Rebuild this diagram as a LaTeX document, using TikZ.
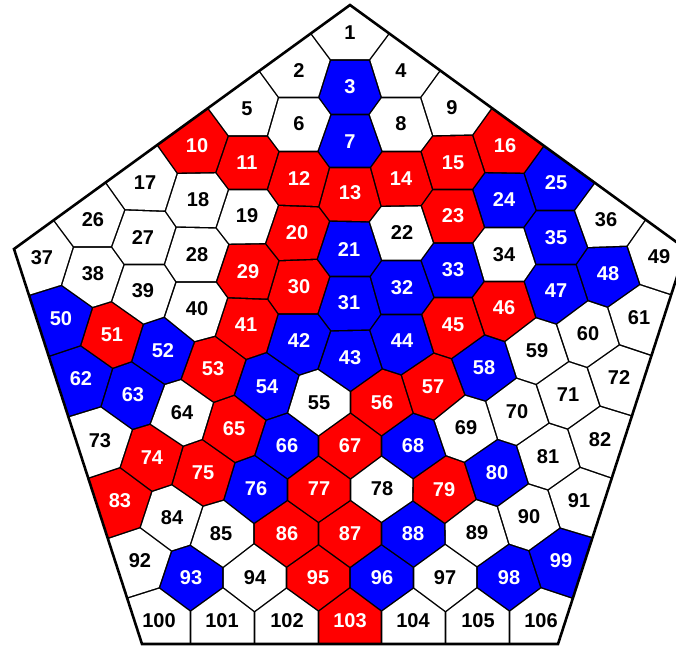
\documentclass[tikz,border=0pt]{standalone}
\usepackage{fontspec}
\setmainfont{Liberation Sans}
\usetikzlibrary{calc}
\definecolor{fr}{RGB}{255,0,0}
\definecolor{fb}{RGB}{0,0,255}
\definecolor{fw}{RGB}{255,255,255}
\definecolor{tr}{RGB}{255,255,255}
\definecolor{tb}{RGB}{255,255,255}
\definecolor{tw}{RGB}{0,0,0}
\newdimen\vdx
\newdimen\vdy
\tikzset{
  lbl/.style={font=\bfseries\fontsize{20}{20}\selectfont, inner sep=0pt},
  rim/.style={draw=black, line width=2.6pt, line join=miter},
}
\begin{document}
\begin{tikzpicture}[x=1pt,y=-1pt]
\fill[white] (0,0) rectangle (676,646);
\useasboundingbox (0,0) rectangle (676,646);
\coordinate (P1) at (350,5);
\coordinate (P2) at (686,249);
\coordinate (P3) at (558,644);
\coordinate (P4) at (142,644);
\coordinate (P5) at (14,249);
\foreach \n/\x/\y/\c in {
1/350/33/w, 2/299/71/w, 3/350/87/b, 4/401/71/w, 5/247/109/w, 6/299/124/w, 7/350/142/b, 8/401/124/w, 9/452/108/w,
10/197/146/r, 11/247/163/r, 12/299/179/r, 13/350/193/r, 14/401/179/r, 15/453/163/r, 16/505/146/r,
17/145/183/w, 18/198/200/w, 19/247/216/w, 20/297/233/r, 21/349/250/b, 22/402/233/w, 23/453/216/r, 24/504/200/b, 25/556/183/b,
26/93/220/w, 27/143/238/w, 28/197/255/w, 29/248/272/r, 30/299/287/r, 31/349/303/b, 32/402/288/b, 33/453/270/b, 34/504/255/w, 35/556/238/b, 36/606/220/w,
37/42/258/w, 38/93/274/w, 39/143/291/w, 40/197/309/w, 41/246/325/r, 42/299/341/b, 43/350/358/b, 44/402/341/b, 45/453/325/r, 46/504/308/r, 47/556/291/b, 48/608/274/b, 49/659/257/w,
50/61/319/b, 51/112/335/r, 52/163/351/b, 53/213/369/r, 54/267/387/b, 55/319/403/w, 56/382/403/r, 57/433/387/r, 58/484/368/b, 59/537/351/w, 60/588/334/w, 61/639/318/w,
62/81/379/b, 63/133/395/b, 64/182/413/w, 65/234/429/r, 66/287/446/b, 67/350/446/r, 68/413/446/b, 69/466/428/w, 70/517/412/w, 71/568/395/w, 72/619/378/w,
73/100/441/w, 74/152/458/r, 75/203/473/r, 76/256/489/b, 77/319/489/r, 78/382/489/w, 79/444/490/r, 80/497/473/b, 81/548/457/w, 82/600/440/w,
83/120/501/r, 84/172/518/w, 85/221/534/w, 86/287/534/r, 87/350/534/r, 88/413/534/b, 89/477/533/w, 90/529/517/w, 91/579/501/w,
92/140/561/w, 93/191/578/b, 94/255/578/w, 95/318/578/r, 96/382/578/b, 97/445/578/w, 98/509/578/b, 99/561/561/b,
100/159/621/w, 101/222/621/w, 102/287/621/w, 103/350/621/r, 104/413/621/w, 105/478/621/w, 106/541/621/w}{
  \expandafter\xdef\csname vx\n\endcsname{\x}
  \expandafter\xdef\csname vy\n\endcsname{\y}
  \expandafter\xdef\csname vc\n\endcsname{\c}
  \coordinate (s\n) at (\x,\y);
}
\fill[black] (P1)--(P2)--(P3)--(P4)--(P5)--cycle;
\foreach \i in {1,...,106}{
  \edef\sxa{\csname vx\i\endcsname}
  \edef\sya{\csname vy\i\endcsname}
  \edef\scc{\csname vc\i\endcsname}
  \begin{scope}
    \clip (P1)--(P2)--(P3)--(P4)--(P5)--cycle;
    \foreach \j in {1,...,106}{
      \ifnum\i=\j\relax\else
        \vdx=\sxa pt\relax
        \advance\vdx by -\csname vx\j\endcsname pt\relax
        \vdy=\sya pt\relax
        \advance\vdy by -\csname vy\j\endcsname pt\relax
        \ifdim\vdx<0pt \vdx=-\vdx\fi
        \ifdim\vdy<0pt \vdy=-\vdy\fi
        \ifdim\vdx<120pt\relax\ifdim\vdy<120pt\relax
          \coordinate (M) at ($(s\i)!0.5!(s\j)$);
          \coordinate (N) at ($(M)!0.8pt!(s\i)$);
          \clip ($(N)!3000pt!90:(s\i)$) -- ($(N)!3000pt!-90:(s\i)$) -- ($(N)!3000pt!(s\i)$) -- cycle;
        \fi\fi
      \fi
    }
    \fill[fill=f\scc] (0,0) rectangle (676,646);
  \end{scope}
  \node[lbl, text=t\scc] (n\i) at (s\i) {\i};
}
\draw[rim] (P1)--(P2)--(P3)--(P4)--(P5)--cycle;
\end{tikzpicture}
\end{document}
